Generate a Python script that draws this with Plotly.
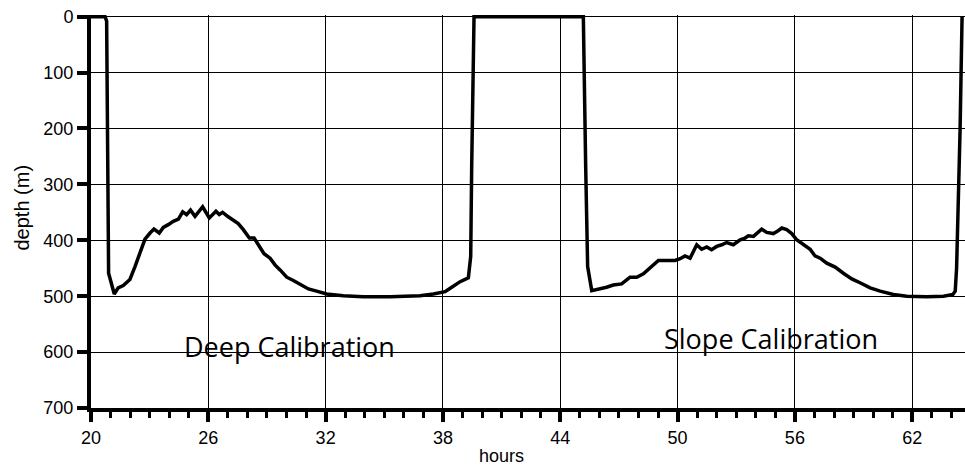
import plotly.graph_objects as go

hours = [20.0, 20.40, 20.72, 20.80, 20.84, 20.90, 21.19, 21.39, 21.65, 21.99, 22.25,
         22.51, 22.76, 23.02, 23.22, 23.49, 23.70, 23.95, 24.21, 24.47, 24.69,
         24.89, 25.09, 25.32, 25.71, 26.05, 26.39, 26.56, 26.73, 27.02, 27.28,
         27.53, 27.79, 28.10, 28.34, 28.56, 28.85, 29.16, 29.41, 29.67, 30.01,
         30.35, 30.69, 31.12, 31.54, 32.05, 32.90, 33.93, 35.29, 36.32, 36.83,
         37.51, 38.11, 38.45, 38.88, 39.30, 39.42, 39.47, 39.59, 42.00, 45.18,
         45.30, 45.40, 45.61, 45.95, 46.37, 46.71, 47.14, 47.57, 47.91, 48.25,
         48.59, 49.02, 49.44, 49.87, 50.13, 50.38, 50.64, 50.98, 51.23, 51.49,
         51.74, 52.00, 52.26, 52.51, 52.85, 53.20, 53.45, 53.62, 53.88, 54.05,
         54.30, 54.56, 54.90, 55.10, 55.33, 55.58, 55.84, 56.09, 56.43, 56.78,
         57.03, 57.29, 57.63, 58.06, 58.48, 58.91, 59.33, 59.85, 60.36, 61.04,
         61.72, 62.74, 63.60, 64.08, 64.20, 64.27, 64.45, 64.55]
depth = [0, 0, 0, 8, 150, 459, 496, 485, 481, 470, 447,
         423, 398, 387, 380, 387, 377, 372, 366, 362, 349,
         354, 346, 357, 340, 360, 348, 354, 350, 358, 364,
         370, 381, 396, 396, 408, 424, 432, 444, 453, 466,
         472, 479, 487, 491, 496, 499, 501, 501, 499, 499,
         496, 492, 484, 474, 467, 429, 268, 0, 0, 0,
         268, 447, 490, 488, 484, 480, 478, 466, 466, 460,
         450, 436, 436, 436, 433, 428, 432, 408, 416, 412,
         417, 411, 408, 404, 408, 399, 396, 392, 393, 388,
         380, 386, 388, 384, 378, 381, 388, 399, 408, 416,
         428, 432, 441, 448, 459, 469, 476, 485, 491, 497,
         500, 501, 500, 497, 491, 450, 200, 0]

x_ticks = [20, 26, 32, 38, 44, 50, 56, 62]
y_ticks = [0, 100, 200, 300, 400, 500, 600, 700]
labels = ["Deep Calibration", "Slope Calibration"]
label_x = [30.13, 54.78]
label_y = [590, 576]

fig = go.Figure()
fig.add_trace(go.Scatter(x=hours, y=depth, mode="lines",
                         line=dict(color="black", width=3.5), showlegend=False))

tickfont = dict(family="Liberation Sans, Arial, sans-serif", size=18, color="black")

fig.update_xaxes(range=[20, 64.7], tickvals=x_ticks, ticktext=[str(v) for v in x_ticks],
                 showline=True, linecolor="black", linewidth=4,
                 ticks="outside", ticklen=10, tickwidth=3.5, tickcolor="black",
                 showgrid=True, gridcolor="black", gridwidth=1, zeroline=False,
                 tickfont=tickfont, ticklabelstandoff=0,
                 minor=dict(dtick=1, tick0=20, ticks="outside", ticklen=6, tickwidth=3,
                            tickcolor="black", showgrid=False))
fig.update_yaxes(range=[700, -3], tickvals=y_ticks, ticktext=[str(v) for v in y_ticks],
                 showline=True, linecolor="black", linewidth=4,
                 ticks="outside", ticklen=10, tickwidth=4, tickcolor="black",
                 showgrid=True, gridcolor="black", gridwidth=1, zeroline=False,
                 tickfont=tickfont)

for t, lx, ly in zip(labels, label_x, label_y):
    fig.add_annotation(x=lx, y=ly, xref="x", yref="y", text=t, showarrow=False,
                       xanchor="center", yanchor="middle",
                       font=dict(family="Open Sans, sans-serif", size=27, color="black"))

fig.add_annotation(x=41, y=-0.122, xref="x", yref="paper", text="hours", showarrow=False,
                   xanchor="center", yanchor="middle",
                   font=dict(family="Liberation Sans, Arial, sans-serif", size=18, color="black"))
fig.add_annotation(x=-0.079, y=0.51, xref="paper", yref="paper", text="depth (m)",
                   showarrow=False, textangle=-90, xanchor="center", yanchor="middle",
                   font=dict(family="Liberation Sans, Arial, sans-serif", size=20, color="black"))

fig.update_layout(width=965, height=468, margin=dict(l=91, r=0, t=15, b=60),
                  paper_bgcolor="white", plot_bgcolor="white")

fig.write_html("out.html")
